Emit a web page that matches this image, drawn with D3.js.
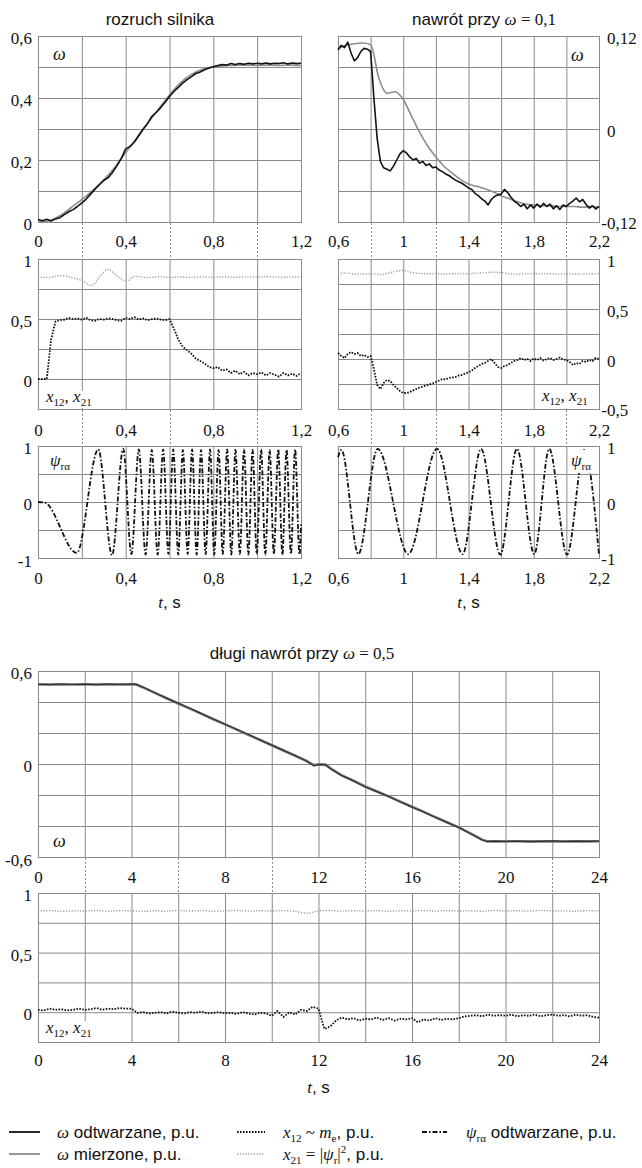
<!DOCTYPE html>
<html><head><meta charset="utf-8">
<script src="https://cdn.jsdelivr.net/npm/d3@7"></script>
<style>body{margin:0;background:#fff}svg{display:block}</style>
</head><body>
<svg id="c" width="642" height="1168"></svg>
<script>
// ---------------- DATA ----------------
// Panel A: rozruch silnika, omega (t = 0..1.2 s)
const tA = d3.range(61).map(i => +(i * 0.02).toFixed(2));
const omegaOdtwA = [0.008,0.004,0.009,0.003,0.01,0.014,0.024,0.033,0.04,0.05,
 0.062,0.074,0.09,0.106,0.12,0.134,0.143,0.16,0.181,0.205,
 0.236,0.244,0.258,0.279,0.3,0.318,0.341,0.354,0.369,0.386,
 0.405,0.421,0.434,0.448,0.459,0.469,0.479,0.484,0.491,0.497,
 0.501,0.505,0.508,0.506,0.511,0.508,0.511,0.509,0.512,0.51,
 0.512,0.51,0.513,0.51,0.512,0.511,0.514,0.51,0.513,0.511,0.512];
const tA2 = d3.range(25).map(i => +(i * 0.05).toFixed(2));
const omegaMierA = [0.0,0.004,0.02,0.046,0.072,0.102,0.136,0.176,0.224,0.27,0.318,0.364,0.41,0.449,0.476,0.493,0.501,0.504,0.505,0.506,0.505,0.506,0.505,0.506,0.505];

// Panel B: nawrót przy omega = 0,1 (t = 0.6..2.2 s)
const tB = d3.range(81).map(i => +(0.6 + i * 0.02).toFixed(2));
const omegaOdtwB = [0.102,0.108,0.105,0.112,0.098,0.088,0.092,0.1,0.104,0.103,0.1,0.04,-0.012,-0.042,-0.05,-0.052,-0.054,-0.048,-0.04,-0.032,
 -0.028,-0.031,-0.036,-0.04,-0.038,-0.044,-0.042,-0.047,-0.045,-0.05,-0.049,-0.053,-0.055,-0.058,-0.06,-0.063,-0.066,-0.068,-0.07,-0.073,
 -0.076,-0.078,-0.083,-0.086,-0.09,-0.093,-0.098,-0.091,-0.087,-0.085,-0.084,-0.078,-0.082,-0.088,-0.093,-0.096,-0.1,-0.097,-0.103,-0.098,
 -0.102,-0.097,-0.101,-0.096,-0.1,-0.097,-0.103,-0.099,-0.104,-0.098,-0.1,-0.096,-0.093,-0.089,-0.094,-0.091,-0.097,-0.102,-0.099,-0.103,-0.1];
const tB2 = d3.range(33).map(i => +(0.6 + i * 0.05).toFixed(2));
const omegaMierB = [0.104,0.108,0.11,0.111,0.109,0.066,0.046,0.048,0.038,0.017,-0.004,-0.022,-0.036,-0.048,-0.057,-0.065,-0.071,-0.074,-0.077,-0.081,-0.086,-0.09,-0.094,-0.097,-0.098,-0.099,-0.099,-0.1,-0.1,-0.1,-0.101,-0.1,-0.101];

// Panel C: x12, x21 during start-up
const x12C = [0,0.0,0.0,0.33,0.48,0.49,0.495,0.51,0.5,0.505,0.495,0.51,0.49,0.485,0.5,0.495,0.505,0.5,0.49,0.485,
 0.51,0.5,0.515,0.495,0.505,0.49,0.5,0.505,0.495,0.49,0.5,0.42,0.33,0.27,0.24,0.21,0.17,0.15,0.13,0.1,
 0.09,0.1,0.07,0.08,0.05,0.07,0.04,0.06,0.03,0.05,0.04,0.055,0.03,0.05,0.035,0.02,0.05,0.03,0.045,0.025,0.05];
const tC21 = [0,0.05,0.1,0.15,0.2,0.245,0.285,0.32,0.36,0.405,0.44,0.5,0.55,0.6,0.65,0.7,0.75,0.8,0.85,0.9,0.95,1.0,1.05,1.1,1.15,1.2];
const x21C = [0.85,0.847,0.862,0.848,0.82,0.78,0.86,0.915,0.86,0.815,0.855,0.845,0.852,0.846,0.85,0.847,0.851,0.848,0.852,0.848,0.851,0.849,0.852,0.848,0.851,0.849];

// Panel D: x12, x21 during reversal
const x12D = [0.06,0.03,0.01,0.05,0.07,0.05,0.06,0.03,0.04,0.02,0.03,-0.1,-0.26,-0.3,-0.24,-0.21,-0.22,-0.26,-0.29,-0.32,
 -0.34,-0.34,-0.33,-0.315,-0.3,-0.285,-0.275,-0.265,-0.255,-0.245,-0.23,-0.215,-0.2,-0.205,-0.19,-0.185,-0.18,-0.165,-0.16,-0.145,
 -0.135,-0.115,-0.09,-0.07,-0.05,-0.04,-0.02,0.0,-0.04,-0.08,-0.09,-0.07,-0.06,-0.04,-0.02,-0.01,0.01,-0.01,0.0,-0.02,
 0.005,-0.01,0.01,-0.015,0.0,0.01,-0.01,0.0,0.015,-0.005,-0.01,-0.03,-0.06,-0.04,-0.05,-0.02,-0.03,-0.01,-0.02,0.01,0.0];
const x21D = [0.855,0.86,0.848,0.85,0.852,0.845,0.855,0.875,0.885,0.865,0.855,0.852,0.855,0.85,0.853,0.855,0.852,0.858,0.862,0.868,0.864,0.852,0.848,0.852,0.855,0.85,0.853,0.849,0.852,0.85,0.849,0.852,0.85];

// Panel E: psi_ra during start-up (extrema)
const tE = [0,0.03,0.177,0.275,0.338,0.389,0.426,0.460,0.491,0.519,0.546,0.571,0.595,0.617,0.640,0.661,0.683,0.703,0.724,0.744,0.765,0.785,0.804,0.824,0.843,0.863,0.882,0.901,0.921,0.940,0.960,0.979,0.998,1.018,1.037,1.057,1.076,1.096,1.115,1.134,1.154,1.173,1.193,1.2];
const psiE = [0,-0.01,-0.91,0.94,-0.95,0.95,-0.93,0.94,-0.94,0.93,-0.94,0.94,-0.93,0.94,-0.94,0.93,-0.93,0.94,-0.94,0.93,-0.93,0.94,-0.94,0.93,-0.93,0.94,-0.94,0.93,-0.93,0.94,-0.94,0.93,-0.93,0.94,-0.94,0.93,-0.93,0.94,-0.94,0.93,-0.93,0.94,-0.94,-0.4];

// Panel F: psi_ra during reversal
const tF = [0.6,0.621,0.725,0.843,1.031,1.207,1.364,1.477,1.595,1.697,1.803,1.895,2.004,2.11,2.2];
const psiF = [0.8,0.93,-0.93,0.95,-0.93,0.95,-0.93,0.95,-0.94,0.95,-0.93,0.95,-0.94,0.93,-0.95];

// Panel G: długi nawrót przy omega = 0,5 (t = 0..24 s)
const tG = [0,0.5,1,1.5,2,2.5,3,3.5,4,4.2,4.5,5,5.5,6,6.5,7,7.5,8,8.5,9,9.5,10,10.5,11,11.5,11.8,12,12.3,12.6,13,13.5,14,14.5,15,15.5,16,16.5,17,17.5,18,18.5,19,19.2,19.5,20,20.5,21,21.5,22,22.5,23,23.5,24];
const omegaOdtwG = [0.515,0.512,0.516,0.513,0.515,0.512,0.516,0.514,0.516,0.515,0.495,0.46,0.425,0.392,0.36,0.325,0.29,0.258,0.224,0.19,0.156,0.122,0.088,0.055,0.018,-0.012,-0.004,-0.006,-0.04,-0.075,-0.11,-0.148,-0.178,-0.21,-0.245,-0.278,-0.31,-0.345,-0.378,-0.41,-0.45,-0.49,-0.5,-0.498,-0.5,-0.497,-0.501,-0.499,-0.496,-0.5,-0.498,-0.499,-0.497];
const omegaMierG = [0.513,0.513,0.514,0.513,0.514,0.513,0.514,0.513,0.514,0.513,0.494,0.459,0.424,0.39,0.357,0.323,0.289,0.256,0.222,0.188,0.155,0.121,0.087,0.053,0.019,-0.008,-0.002,-0.004,-0.037,-0.073,-0.108,-0.145,-0.177,-0.209,-0.243,-0.276,-0.309,-0.343,-0.376,-0.409,-0.448,-0.488,-0.499,-0.499,-0.499,-0.498,-0.499,-0.499,-0.498,-0.499,-0.498,-0.499,-0.498];

// Panel H: x12, x21 during long reversal
const tH = d3.range(97).map(i => i * 0.25);
const x12H = [0.02,0.015,0.03,0.02,0.025,0.015,0.02,0.03,0.02,0.025,0.035,0.02,0.03,0.025,0.035,0.03,0.03,
 -0.005,0.0,-0.01,-0.005,0.0,-0.01,0.005,-0.005,-0.01,0.0,-0.005,0.005,-0.01,-0.005,0.0,-0.01,-0.005,-0.015,0.0,-0.01,-0.02,-0.005,-0.01,-0.03,
 0.01,-0.04,0.0,-0.02,0.02,0.01,0.045,0.03,
 -0.14,-0.12,-0.07,-0.045,
 -0.06,-0.05,-0.07,-0.055,-0.06,-0.045,-0.065,-0.05,-0.07,-0.055,-0.06,-0.05,-0.085,-0.06,-0.07,-0.05,-0.065,-0.055,-0.06,-0.05,
 -0.035,-0.03,-0.025,-0.035,-0.02,-0.03,-0.025,-0.03,-0.02,-0.035,-0.025,-0.03,-0.02,-0.035,-0.025,-0.02,-0.03,-0.025,-0.035,-0.02,-0.03,-0.025,-0.04,-0.045];
const tH2 = d3.range(49).map(i => i * 0.5);
const x21H = [0.848,0.852,0.846,0.851,0.849,0.853,0.847,0.852,0.85,0.846,0.851,0.848,0.853,0.849,0.852,0.847,0.85,0.853,0.848,0.851,0.849,0.852,0.846,0.83,0.85,0.853,0.848,0.851,0.849,0.852,0.847,0.851,0.849,0.853,0.848,0.852,0.849,0.851,0.847,0.854,0.849,0.851,0.848,0.854,0.849,0.85,0.847,0.852,0.85];

// tick labels
const xLabelsLeft = [0,0.4,0.8,1.2];
const xLabelsRight = [0.6,1,1.4,1.8,2.2];
const xLabelsBottom = [0,4,8,12,16,20,24];

// ---------------- DRAWING ----------------
const svg = d3.select("#c");
const SERIF = "Liberation Serif, Times New Roman, serif";
const SANS = "Liberation Sans, Arial, sans-serif";
const GRID = "#8a8a8a";
const FS = 17;
const fmt = v => String(v).replace(".", ",");

const ST = {
  odtw: {stroke:"#111", w:1.6, dash:null},
  mier: {stroke:"#8c8c8c", w:1.6, dash:null},
  odtwG: {stroke:"#333", w:1.2, dash:null},
  mierG: {stroke:"#777", w:2.6, dash:null},
  x12:  {stroke:"#111", w:1.8, dash:"1.6 1.4"},
  x21:  {stroke:"#9a9a9a", w:1.4, dash:"1.2 1.6"},
  psi:  {stroke:"#111", w:1.8, dash:"5 2 1.5 2"}
};

function rich(g, x, y, parts, anchor, size) {
  size = size || FS;
  const t = g.append("text").attr("x", x).attr("y", y)
    .attr("text-anchor", anchor || "start").attr("font-size", size).attr("fill", "#111");
  let off = 0;
  parts.forEach(([s, k]) => {
    const sp = t.append("tspan").text(s);
    let target = 0;
    if (k === "i") sp.attr("font-family", SERIF).attr("font-style", "italic");
    else if (k === "r") sp.attr("font-family", SERIF);
    else if (k === "s") sp.attr("font-family", SANS);
    else if (k === "sub") { sp.attr("font-family", SERIF).attr("font-size", size * 0.65); target = size * 0.25; }
    else if (k === "sup") { sp.attr("font-family", SERIF).attr("font-size", size * 0.65); target = -size * 0.4; }
    if (target !== off) { sp.attr("dy", target - off); off = target; }
  });
  return t;
}

function panel(o) {
  const g = svg.append("g");
  const x = d3.scaleLinear().domain(o.xd).range(o.xr);
  const y = d3.scaleLinear().domain(o.yd).range(o.yr);
  const xt = d3.range(o.xd[0], o.xd[1] + o.xs / 2, o.xs);
  const yt = d3.range(o.yd[0], o.yd[1] + o.ys / 2, o.ys);
  const H = o.yr[0] - o.yr[1], W = o.xr[1] - o.xr[0];
  const gx = g.append("g").attr("transform", `translate(0,${o.yr[0]})`)
    .call(d3.axisBottom(x).tickValues(xt).tickSize(-H).tickFormat(""));
  const gy = g.append("g").attr("transform", `translate(${o.xr[0]},0)`)
    .call(d3.axisLeft(y).tickValues(yt).tickSize(-W).tickFormat(""));
  [gx, gy].forEach(a => { a.select(".domain").remove(); a.selectAll("line").attr("stroke", GRID).attr("stroke-width", 1); });
  g.append("rect").attr("x", o.xr[0] + 0.5).attr("y", o.yr[1] + 0.5).attr("width", W).attr("height", H)
    .attr("fill", "none").attr("stroke", GRID).attr("stroke-width", 1);

  // x tick labels
  const lx = g.append("g").attr("transform", `translate(0,${o.xlY})`)
    .call(d3.axisBottom(x).tickValues(o.xl).tickSize(0).tickPadding(0).tickFormat(fmt));
  lx.attr("font-family", SERIF).attr("font-size", FS);
  lx.select(".domain").remove();
  lx.selectAll("text").attr("dy", "0.35em").attr("font-family", SERIF).attr("font-size", FS).attr("fill", "#111");

  // y tick labels
  if (o.side === "left") {
    const ly = g.append("g").attr("transform", `translate(32,0)`)
      .call(d3.axisLeft(y).tickValues(o.yl).tickSize(0).tickPadding(0).tickFormat(fmt));
    ly.attr("font-family", SERIF).attr("font-size", FS);
    ly.select(".domain").remove();
    ly.selectAll("text").attr("dy", "0.35em").attr("y", d => (d < 0 && d === o.yd[0]) ? 3 : 1.5)
      .attr("font-family", SERIF).attr("font-size", FS).attr("fill", "#111");
  } else {
    const ly = g.append("g").attr("transform", `translate(607,0)`)
      .call(d3.axisRight(y).tickValues(o.yl).tickSize(0).tickPadding(0).tickFormat(fmt));
    ly.attr("font-family", SERIF).attr("font-size", FS);
    ly.select(".domain").remove();
    ly.selectAll("text").attr("dy", "0.35em").attr("x", d => d < 0 ? -5.7 : 0)
      .attr("y", d => (d < 0 && d === o.yd[0]) ? 1 : 2)
      .attr("font-family", SERIF).attr("font-size", FS).attr("fill", "#111");
  }

  // series
  o.series.forEach(s => {
    const st = ST[s.style];
    const line = d3.line().x(d => x(d[0])).y(d => y(d[1]))
      .curve(s.curve === "mono" ? d3.curveMonotoneX : d3.curveLinear);
    const p = g.append("path").datum(d3.zip(s.t, s.v)).attr("d", line)
      .attr("fill", "none").attr("stroke", st.stroke).attr("stroke-width", st.w)
      .attr("stroke-linejoin", "round");
    if (st.dash) p.attr("stroke-dasharray", st.dash);
  });

  // inner labels
  (o.labels || []).forEach(l => {
    if (l.box) g.append("rect").attr("x", l.box[0]).attr("y", l.box[1]).attr("width", l.box[2]).attr("height", l.box[3]).attr("fill", "#fff");
    rich(g, l.x, l.y, l.parts, l.anchor, l.size);
  });

  // dotted connectors to the next panel
  if (o.conn) {
    g.selectAll(".conn").data(o.conn.v).join("line")
      .attr("x1", d => Math.round(x(d)) + 0.5).attr("x2", d => Math.round(x(d)) + 0.5)
      .attr("y1", o.yr[0] + 1).attr("y2", o.conn.y2)
      .attr("stroke", GRID).attr("stroke-width", 1).attr("stroke-dasharray", "2 2");
  }
  if (o.xTitle) rich(g, (o.xr[0] + o.xr[1]) / 2, o.xTitle, [["t", "i"], [", s", "s"]], "middle");
  return {x, y};
}

const X12LBL = [["x","i"],["12","sub"],[", ","r"],["x","i"],["21","sub"]];
const PSILBL = [["ψ","i"],["rα","sub"]];

// ---- top-left column ----
panel({xd:[0,1.2], xr:[38,301], yd:[0,0.6], yr:[222,36], xs:0.2, ys:0.1,
  xl:xLabelsLeft, xlY:241, yl:[0,0.2,0.4,0.6], side:"left",
  series:[{t:tA2, v:omegaMierA, style:"mier", curve:"mono"}, {t:tA, v:omegaOdtwA, style:"odtw"}],
  labels:[{x:53, y:60, parts:[["ω","i"]], size:18}],
  conn:{v:[0.2,0.6,1.0], y2:259}});
panel({xd:[0,1.2], xr:[38,301], yd:[-0.25,1], yr:[409,259], xs:0.2, ys:0.25,
  xl:xLabelsLeft, xlY:430, yl:[0,0.5,1], side:"left",
  series:[{t:tC21, v:x21C, style:"x21", curve:"mono"}, {t:tA, v:x12C, style:"x12"}],
  labels:[{x:46, y:402, parts:X12LBL, box:[42,391,64,17]}],
  conn:{v:[0.2,0.6,1.0], y2:446}});
panel({xd:[0,1.2], xr:[38,301], yd:[-1,1], yr:[558,446], xs:0.2, ys:0.5,
  xl:xLabelsLeft, xlY:578, yl:[-1,0,1], side:"left",
  series:[{t:tE, v:psiE, style:"psi", curve:"mono"}],
  labels:[{x:50, y:466, parts:PSILBL}], xTitle:608});

// ---- top-right column ----
panel({xd:[0.6,2.2], xr:[338,599], yd:[-0.12,0.12], yr:[222,36], xs:0.2, ys:0.04,
  xl:xLabelsRight, xlY:241, yl:[-0.12,0,0.12], side:"right",
  series:[{t:tB2, v:omegaMierB, style:"mier", curve:"mono"}, {t:tB, v:omegaOdtwB, style:"odtw"}],
  labels:[{x:571, y:61, parts:[["ω","i"]], size:18}],
  conn:{v:[0.8,1.2,1.6,2.0], y2:259}});
panel({xd:[0.6,2.2], xr:[338,599], yd:[-0.5,1], yr:[409,259], xs:0.2, ys:0.25,
  xl:xLabelsRight, xlY:430, yl:[-0.5,0,0.5,1], side:"right",
  series:[{t:tB2, v:x21D, style:"x21", curve:"mono"}, {t:tB, v:x12D, style:"x12"}],
  labels:[{x:542, y:401, parts:X12LBL, box:[540,385,58.5,23.5]}],
  conn:{v:[0.8,1.2,1.6,2.0], y2:446}});
panel({xd:[0.6,2.2], xr:[338,599], yd:[-1,1], yr:[558,446], xs:0.2, ys:0.5,
  xl:xLabelsRight, xlY:578, yl:[-1,0,1], side:"right",
  series:[{t:tF, v:psiF, style:"psi", curve:"mono"}],
  labels:[{x:571, y:466, parts:PSILBL, box:[569,450,29.5,23]}], xTitle:608});

// ---- bottom ----
panel({xd:[0,24], xr:[38,599], yd:[-0.6,0.6], yr:[857,671], xs:2, ys:0.2,
  xl:xLabelsBottom, xlY:877, yl:[-0.6,0,0.6], side:"left",
  series:[{t:tG, v:omegaMierG, style:"mierG"}, {t:tG, v:omegaOdtwG, style:"odtwG"}],
  labels:[{x:53, y:847, parts:[["ω","i"]], size:18}],
  conn:{v:[2,6,10,14,18,22], y2:893}});
panel({xd:[0,24], xr:[38,599], yd:[-0.25,1], yr:[1042,893], xs:2, ys:0.25,
  xl:xLabelsBottom, xlY:1060, yl:[0,0.5,1], side:"left",
  series:[{t:tH2, v:x21H, style:"x21", curve:"mono"}, {t:tH, v:x12H, style:"x12"}],
  labels:[{x:46, y:1033, parts:X12LBL, box:[42,1021,64,20.5]}], xTitle:1093});

// ---- titles ----
rich(svg, 160, 25, [["rozruch silnika","s"]], "middle");
rich(svg, 484, 25, [["nawrót przy ","s"],["ω","i"],[" = 0,1","r"]], "middle");
rich(svg, 302, 659, [["długi nawrót przy ","s"],["ω","i"],[" = 0,5","r"]], "middle");

// ---- legend ----
const legend = [
  {x:9, y:1132, style:"odtw", parts:[["ω","i"],[" odtwarzane, p.u.","s"]]},
  {x:9, y:1154, style:"mier", parts:[["ω","i"],[" mierzone, p.u.","s"]]},
  {x:237, y:1132, style:"x12", parts:[["x","i"],["12","sub"],[" ~ ","r"],["m","i"],["e","sub"],[", p.u.","s"]]},
  {x:237, y:1154, style:"x21", parts:[["x","i"],["21","sub"],[" = |","r"],["ψ","i"],["r","sub"],["|","r"],["2","sup"],[", p.u.","s"]]},
  {x:422, y:1132, style:"psi", parts:[["ψ","i"],["rα","sub"],[" odtwarzane, p.u.","s"]]}
];
const lg = svg.append("g");
legend.forEach(l => {
  const st = ST[l.style];
  const len = l.x < 100 ? 31 : (l.x < 300 ? 28 : 25);
  const ln = lg.append("line").attr("x1", l.x).attr("x2", l.x + len).attr("y1", l.y).attr("y2", l.y)
    .attr("stroke", st.stroke).attr("stroke-width", st.w + 0.2);
  if (st.dash) ln.attr("stroke-dasharray", st.dash);
  const tx = l.x < 100 ? 57 : (l.x < 300 ? 283 : 466);
  rich(lg, tx, l.y + 6, l.parts, "start");
});
</script>
</body></html>
